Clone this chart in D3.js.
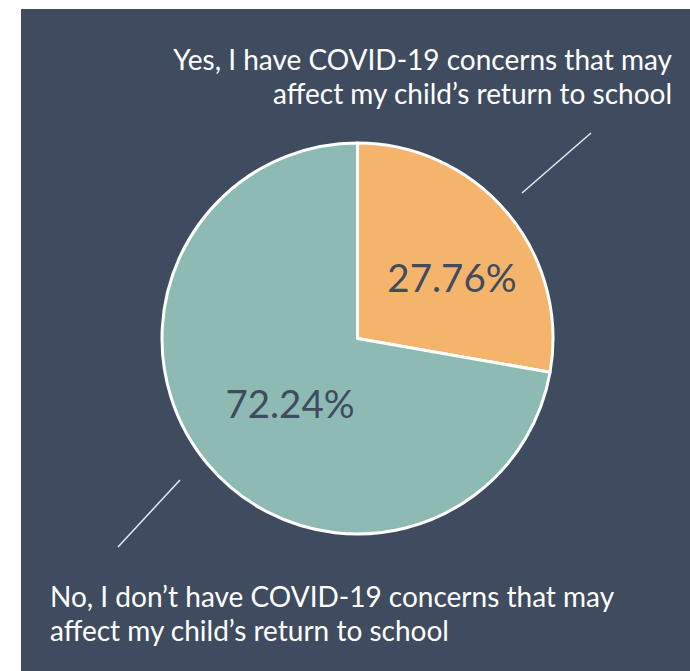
<!DOCTYPE html>
<html><head><meta charset="utf-8">
<script src="https://cdn.jsdelivr.net/npm/d3@7"></script>
<style>html,body{margin:0;padding:0;background:#fff;}svg{display:block;}</style>
</head><body>
<svg id="chart" width="690" height="671"></svg>
<script>
const categories = ["Yes, I have COVID-19 concerns that may affect my child’s return to school",
                    "No, I don’t have COVID-19 concerns that may affect my child’s return to school"];
const values = [27.76, 72.24];
const valueLabels = ["27.76%", "72.24%"];
const colors = ["#f4b46c", "#8ebab4"];

const svg = d3.select("#chart");
svg.append("rect").attr("x",21).attr("y",9).attr("width",669).attr("height",662).attr("fill","#3f4c5f");

const cx = 357.5, cy = 338.5, r = 195.5;
const pie = d3.pie().sort(null).value(d=>d)(values);
const arc = d3.arc().innerRadius(0).outerRadius(r);
const g = svg.append("g").attr("transform",`translate(${cx},${cy})`);
g.selectAll("path").data(pie).join("path")
  .attr("d",arc).attr("fill",(d,i)=>colors[i])
  .attr("stroke","#fff").attr("stroke-width",3).attr("stroke-linejoin","round");

const font = "Lato, 'Open Sans', sans-serif";
const labelPos = [[452,292],[290,418]];
g.selectAll("text.v").data(pie).join("text")
  .attr("class","v")
  .attr("x",(d,i)=>labelPos[i][0]-cx).attr("y",(d,i)=>labelPos[i][1]-cy)
  .attr("text-anchor","middle")
  .attr("font-family",font).attr("font-size",38.5)
  .attr("fill","#3f4c5f").text((d,i)=>valueLabels[i]);

const leaders = [[[522,193],[591,133]],[[118,547],[180,480]]];
svg.selectAll("line.l").data(leaders).join("line")
  .attr("x1",d=>d[0][0]).attr("y1",d=>d[0][1]).attr("x2",d=>d[1][0]).attr("y2",d=>d[1][1])
  .attr("stroke","#e8ecf0").attr("stroke-width",1.5);

const topLines = ["Yes, I have COVID-19 concerns that may","affect my child’s return to school"];
const botLines = ["No, I don’t have COVID-19 concerns that may","affect my child’s return to school"];
const t1 = svg.append("text").attr("font-family",font).attr("font-size",28).attr("fill","#fff").attr("text-anchor","end");
topLines.forEach((s,i)=>t1.append("tspan").attr("x",672).attr("y",70+i*34).text(s));
const t2 = svg.append("text").attr("font-family",font).attr("font-size",28).attr("fill","#fff").attr("text-anchor","start");
botLines.forEach((s,i)=>t2.append("tspan").attr("x",50).attr("y",607+i*34).text(s));
</script>
</body></html>
